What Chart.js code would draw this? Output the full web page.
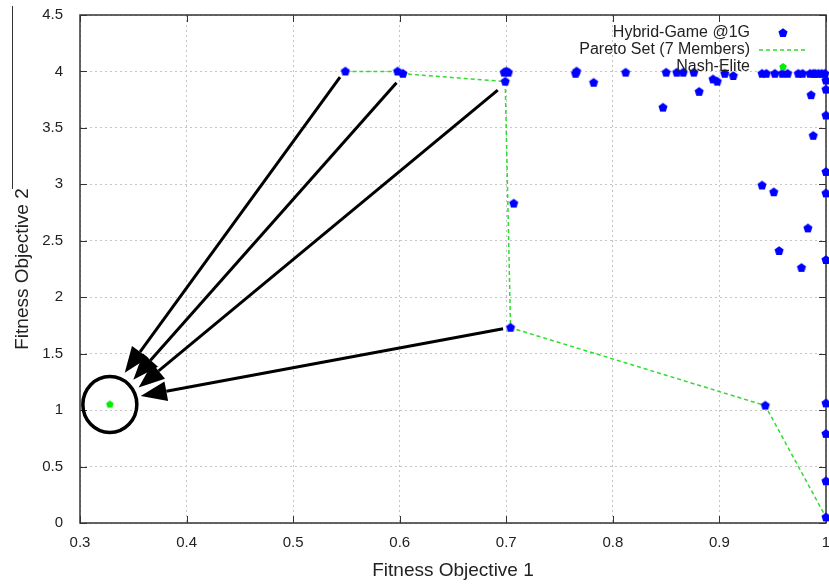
<!DOCTYPE html>
<html>
<head>
<meta charset="utf-8">
<script src="https://cdn.jsdelivr.net/npm/chart.js@4.4.0/dist/chart.umd.min.js"></script>
<style>
  html, body { margin: 0; padding: 0; background: #fff; }
</style>
</head>
<body>
<canvas id="myChart" width="829" height="585"></canvas>
<script>
// population after one generation (objective 1 / objective 2)
const hybridX = [0.549, 0.598, 0.603, 0.698, 0.700, 0.702, 0.699, 0.707, 0.704,
  0.765, 0.766, 0.782, 0.812, 0.847, 0.850, 0.860, 0.866, 0.876, 0.881, 0.894, 0.898, 0.905, 0.913,
  0.940, 0.951, 0.940, 0.944, 0.952, 0.959, 0.964, 0.974, 0.978, 0.985, 0.988, 0.990, 0.993, 0.996, 0.999,
  1.000, 1.000, 0.986, 1.000, 0.988, 1.000, 1.000, 0.983, 0.956, 0.977, 1.000,
  0.943, 1.000, 1.000, 1.000, 1.000];
const hybridY = [4.00, 4.00, 3.98, 3.99, 4.00, 3.99, 3.91, 2.83, 1.73,
  3.98, 4.00, 3.90, 3.99, 3.68, 3.99, 3.99, 3.99, 3.99, 3.82, 3.93, 3.91, 3.98, 3.96,
  2.99, 2.93, 3.98, 3.98, 3.98, 3.98, 3.98, 3.98, 3.98, 3.98, 3.98, 3.98, 3.98, 3.98, 3.98,
  3.92, 3.84, 3.79, 3.61, 3.43, 3.11, 2.92, 2.61, 2.41, 2.26, 2.33,
  1.04, 1.06, 0.79, 0.37, 0.05];

// pareto members, joined in this order
const paretoX = [0.549, 0.598, 0.603, 0.699, 0.704, 0.943, 1.000];
const paretoY = [4.00, 4.00, 3.98, 3.91, 1.73, 1.04, 0.05];

const nashX = [0.328];
const nashY = [1.05];

// arrows from the pareto members towards the nash elite
const arrowFromX = [0.544, 0.597, 0.692, 0.697];
const arrowFromY = [3.95, 3.90, 3.835, 1.72];
const arrowToX = [0.342, 0.350, 0.355, 0.357];
const arrowToY = [1.33, 1.27, 1.20, 1.125];

const labels = ['Hybrid-Game @1G', 'Pareto Set (7 Members)', 'Nash-Elite'];

const FONT = '"Liberation Sans", Arial, Helvetica, sans-serif';

function pentagon(color, r) {
  const s = Math.ceil(r * 2) + 2;
  const c = document.createElement('canvas');
  c.width = s; c.height = s;
  const g = c.getContext('2d');
  g.fillStyle = color;
  g.beginPath();
  for (let i = 0; i < 5; i++) {
    const a = -Math.PI / 2 + i * 2 * Math.PI / 5;
    const px = s / 2 + r * Math.cos(a), py = s / 2 + r * Math.sin(a);
    if (i) g.lineTo(px, py); else g.moveTo(px, py);
  }
  g.closePath();
  g.fill();
  return c;
}

const bluePt = pentagon('#0000ff', 4.8);
const greenPt = pentagon('#00ee00', 4);

function pts(xs, ys) {
  return xs.map((x, i) => ({ x: x, y: ys[i] }));
}

// gnuplot style frame with inward ticks on all four sides
const framePlugin = {
  id: 'frame',
  beforeDatasetsDraw(chart) {
    const { ctx, chartArea: a, scales: { x, y } } = chart;
    ctx.save();
    ctx.strokeStyle = '#333';
    ctx.lineWidth = 1;
    ctx.beginPath();
    x.ticks.forEach(t => {
      const px = Math.round(x.getPixelForValue(t.value)) + 0.5;
      ctx.moveTo(px, a.bottom); ctx.lineTo(px, a.bottom - 7);
      ctx.moveTo(px, a.top); ctx.lineTo(px, a.top + 7);
    });
    y.ticks.forEach(t => {
      const py = Math.round(y.getPixelForValue(t.value)) + 0.5;
      ctx.moveTo(a.left, py); ctx.lineTo(a.left + 7, py);
      ctx.moveTo(a.right, py); ctx.lineTo(a.right - 7, py);
    });
    ctx.stroke();
    ctx.lineWidth = 1.5;
    ctx.strokeRect(a.left, a.top, a.right - a.left, a.bottom - a.top);
    // thin rule over the y title
    ctx.lineWidth = 1;
    ctx.beginPath();
    ctx.moveTo(12.5, 6);
    ctx.lineTo(12.5, 189);
    ctx.stroke();
    ctx.restore();
  }
};

// ring round the nash elite plus the four arrows
const arrowPlugin = {
  id: 'arrows',
  afterDatasetsDraw(chart) {
    const { ctx, scales: { x, y } } = chart;
    ctx.save();
    ctx.strokeStyle = '#000';
    ctx.fillStyle = '#000';
    ctx.lineWidth = 3.5;
    ctx.beginPath();
    ctx.ellipse(x.getPixelForValue(nashX[0]), y.getPixelForValue(nashY[0]), 27, 28, 0, 0, Math.PI * 2);
    ctx.stroke();

    arrowFromX.forEach((fx, i) => {
      const x0 = x.getPixelForValue(fx), y0 = y.getPixelForValue(arrowFromY[i]);
      const x1 = x.getPixelForValue(arrowToX[i]), y1 = y.getPixelForValue(arrowToY[i]);
      const ang = Math.atan2(y1 - y0, x1 - x0);
      const len = 26, half = 10;
      const bx = x1 - len * Math.cos(ang), by = y1 - len * Math.sin(ang);
      ctx.lineWidth = 3;
      ctx.beginPath();
      ctx.moveTo(x0, y0);
      ctx.lineTo(bx, by);
      ctx.stroke();
      ctx.beginPath();
      ctx.moveTo(x1, y1);
      ctx.lineTo(bx + half * Math.sin(ang), by - half * Math.cos(ang));
      ctx.lineTo(bx - half * Math.sin(ang), by + half * Math.cos(ang));
      ctx.closePath();
      ctx.fill();
    });
    ctx.restore();
  }
};

// key in the top right corner, text right aligned left of the sample
const keyPlugin = {
  id: 'key',
  afterDraw(chart) {
    const { ctx, chartArea: a } = chart;
    const textRight = a.right - 76;
    const sampleX = a.right - 43;
    ctx.save();
    ctx.font = '16px ' + FONT;
    ctx.fillStyle = '#222';
    ctx.textAlign = 'right';
    ctx.textBaseline = 'middle';
    chart.data.datasets.forEach((ds, i) => {
      const ry = Math.round(a.top + 18 + i * 17);
      ctx.fillText(ds.label, textRight, ry);
      if (ds.showLine) {
        ctx.strokeStyle = ds.borderColor;
        ctx.lineWidth = ds.borderWidth;
        ctx.setLineDash(ds.borderDash);
        ctx.beginPath();
        ctx.moveTo(sampleX - 24, ry);
        ctx.lineTo(sampleX + 25, ry);
        ctx.stroke();
        ctx.setLineDash([]);
      } else {
        const img = ds.pointStyle;
        ctx.drawImage(img, sampleX - img.width / 2, ry - img.height / 2);
      }
    });
    ctx.restore();
  }
};

const fmt = v => String(+Number(v).toFixed(1));

const ctx = document.querySelector('#myChart').getContext('2d');
const myChart = new Chart(ctx, {
  type: 'scatter',
  data: {
    datasets: [{
      label: labels[0],
      data: pts(hybridX, hybridY),
      pointStyle: bluePt,
      pointRadius: 5,
      clip: false
    }, {
      label: labels[1],
      data: pts(paretoX, paretoY),
      showLine: true,
      borderColor: '#2fdc2f',
      borderWidth: 1.5,
      borderDash: [4, 3],
      pointRadius: 0,
      clip: false
    }, {
      label: labels[2],
      data: pts(nashX, nashY),
      pointStyle: greenPt,
      pointRadius: 4
    }]
  },
  options: {
    responsive: false,
    animation: false,
    devicePixelRatio: 1,
    layout: { autoPadding: false, padding: { top: 15, right: 3, bottom: 0, left: 0 } },
    plugins: {
      legend: { display: false },
      tooltip: { enabled: false }
    },
    scales: {
      x: {
        type: 'linear',
        min: 0.3,
        max: 1.0,
        afterFit: s => {
          s.height = 62;
          s.paddingLeft = 0;
          s.paddingRight = 0;
        },
        ticks: {
          stepSize: 0.1,
          padding: 11,
          color: '#222',
          font: { family: FONT, size: 15 },
          callback: fmt
        },
        grid: { color: '#c4c4c4', lineWidth: 1, drawTicks: false },
        border: { display: false, dash: [2, 3] },
        title: {
          display: true,
          text: 'Fitness Objective 1',
          color: '#222',
          font: { family: FONT, size: 19 },
          padding: { top: 0, bottom: 3 }
        }
      },
      y: {
        type: 'linear',
        min: 0,
        max: 4.5,
        afterFit: s => {
          s.width = 80;
          s.paddingTop = 0;
          s.paddingBottom = 0;
        },
        ticks: {
          stepSize: 0.5,
          padding: 17,
          color: '#222',
          font: { family: FONT, size: 15 },
          callback: fmt
        },
        grid: { color: '#c4c4c4', lineWidth: 1, drawTicks: false },
        border: { display: false, dash: [2, 3] },
        title: {
          display: true,
          text: 'Fitness Objective 2',
          color: '#222',
          font: { family: FONT, size: 19 },
          padding: { top: 11, bottom: 0 }
        }
      }
    }
  },
  plugins: [framePlugin, arrowPlugin, keyPlugin]
});
</script>
</body>
</html>
